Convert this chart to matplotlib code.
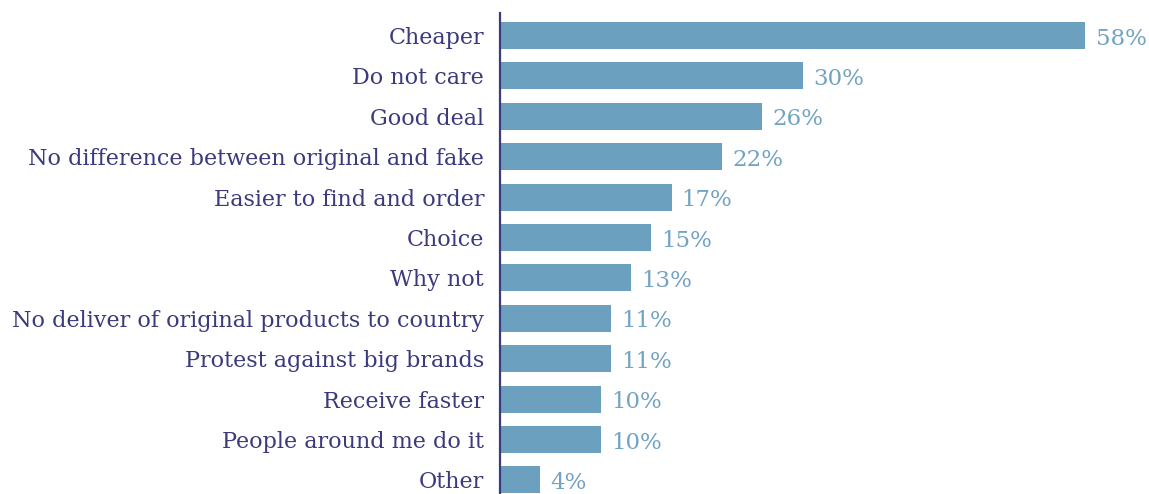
import matplotlib.pyplot as plt

reasons = ['Cheaper', 'Do not care', 'Good deal', 'No difference between original and fake',
           'Easier to find and order', 'Choice', 'Why not',
           'No deliver of original products to country', 'Protest against big brands',
           'Receive faster', 'People around me do it', 'Other']
shares = [58, 30, 26, 22, 17, 15, 13, 11, 11, 10, 10, 4]

bar_color = '#6ba1be'
text_color = '#3a3a7c'
value_color = '#72a3c2'

fig = plt.figure(figsize=(11.49, 4.94), dpi=100)
ax = fig.add_axes([500 / 1149, 0, 649 / 1149, 481 / 494])

pos = list(range(len(reasons)))
ax.barh(pos, shares, height=0.67, color=bar_color)
for p, v in zip(pos, shares):
    ax.text(v + 1.0, p + 0.08, f'{v}%', va='center', ha='left',
            color=value_color, fontsize=16.5, family='DejaVu Serif')

ax.set_yticks(pos)
ax.set_yticklabels(reasons, color=text_color, fontsize=16, family='DejaVu Serif')
ax.tick_params(axis='y', length=0, pad=11.5)
ax.set_xticks([])
ax.set_ylim(11.35, -0.555)
ax.set_xlim(0, 64.3)

for s in ['top', 'right', 'bottom']:
    ax.spines[s].set_visible(False)
ax.spines['left'].set_color(text_color)
ax.spines['left'].set_linewidth(1.6)

fig.savefig('out.png', dpi=100)
